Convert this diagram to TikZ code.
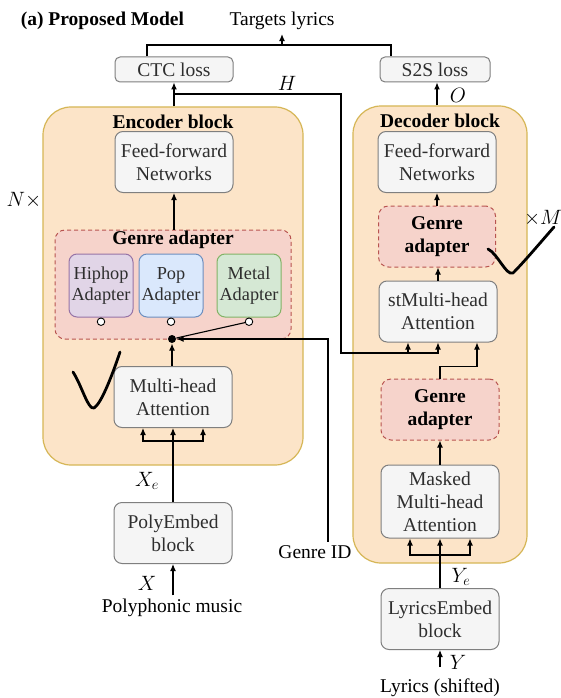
\documentclass[tikz,border=0pt]{standalone}
\usepackage{fontspec}
\setmainfont{Liberation Serif}
\usetikzlibrary{positioning, arrows.meta, calc}

\definecolor{blockfill}{HTML}{FCE4C8}
\definecolor{blockline}{HTML}{D6B656}
\definecolor{boxfill}{HTML}{F5F5F5}
\definecolor{boxline}{HTML}{7F7F7F}
\definecolor{boxtext}{HTML}{2E2E2E}
\definecolor{genrefill}{HTML}{F6D3CB}
\definecolor{genreline}{HTML}{B85450}
\definecolor{hiphopfill}{HTML}{E1D5E7}
\definecolor{hiphopline}{HTML}{9673A6}
\definecolor{popfill}{HTML}{DAE8FC}
\definecolor{popline}{HTML}{6C8EBF}
\definecolor{metalfill}{HTML}{D5E8D4}
\definecolor{metalline}{HTML}{82B366}

\begin{document}
\begin{tikzpicture}[
    x=1pt, y=-1pt,
    line width=1.1pt,
    >={Latex[length=7pt,width=6pt]},
    font=\fontsize{19.5}{23}\selectfont,
    block/.style={draw=blockline, fill=blockfill, rounded corners=28pt, line width=1.2pt},
    box/.style={draw=boxline, fill=boxfill, text=boxtext, rounded corners=8pt, align=center, minimum width=118pt, minimum height=61pt, inner sep=1pt, line width=1pt},
    losbox/.style={box, minimum height=25pt, rounded corners=5pt},
    genre/.style={draw=genreline, fill=genrefill, dash pattern=on 4pt off 3pt, rounded corners=10pt, line width=1pt, align=center, font=\fontsize{19.5}{23}\selectfont\bfseries},
    adapter/.style={box, minimum width=64pt, minimum height=63pt, font=\fontsize{18.3}{21}\selectfont},
    port/.style={draw, fill=white, circle, inner sep=0pt, minimum size=7.5pt, line width=0.9pt},
    heading/.style={font=\fontsize{19.5}{23}\selectfont\bfseries},
    tick/.style={line width=2.8pt, line cap=round, line join=round}
]{
    \fill[white] (0,0) rectangle (560,698);
    \useasboundingbox (0,0) rectangle (560,698);

    \node[block, minimum width=260pt, minimum height=358pt](encoder) at (173,286){};
    \node[block, minimum width=174pt, minimum height=457pt](decoder) at (440,334.5){};

    % Encoder
    \node[heading](encoder_title) at (173,122){Encoder block};
    \node[box](enc_ffn) at (174,162){Feed-forward\\Networks};
    \node[genre, minimum width=236pt, minimum height=109pt](enc_genre) at (173,284.5){};
    \node[heading](enc_genre_title) at (173,240){Genre adapter};
    \node[adapter, fill=hiphopfill, draw=hiphopline](hiphop) at (101,285.5){Hiphop\\Adapter};
    \node[adapter, fill=popfill, draw=popline](pop) at (171,285.5){Pop\\Adapter};
    \node[adapter, fill=metalfill, draw=metalline](metal) at (249,285.5){Metal\\Adapter};
    \node[port, below=0pt of hiphop](hiphop_port){};
    \node[port, below=0pt of pop](pop_port){};
    \node[port, below=0pt of metal](metal_port){};
    \node[circle, fill=black, inner sep=0pt, minimum size=8pt](selector) at (172,339){};
    \node[box](enc_mha) at (173,397){Multi-head\\Attention};
    \node[box](poly_embed) at (173,533){PolyEmbed\\block};
    \node(poly_in) at (172,608){Polyphonic music};
    \node(xe_label) at (147,481){$X_e$};
    \node(x_label) at (147,583){$X$};
    \node(genre_id) at (315,552){Genre ID};
    \node(n_times) at (24,200){$N\times$};

    % Decoder
    \node[heading](decoder_title) at (440,121){Decoder block};
    \node[box](dec_ffn) at (437,162){Feed-forward\\Networks};
    \node[genre, minimum width=117pt, minimum height=61pt](dec_genre_top) at (437,236.5){Genre\\adapter};
    \node[box](dec_cross) at (438,311.5){stMulti-head\\Attention};
    \node[genre, minimum width=118pt, minimum height=61pt](dec_genre_low) at (440,409.5){Genre\\adapter};
    \node[box, minimum height=73pt](dec_masked) at (440,501.5){Masked\\Multi-head\\Attention};
    \node[box](lyrics_embed) at (440,619){LyricsEmbed\\block};
    \node(lyrics_in) at (440,688){Lyrics (shifted)};
    \node(ye_label) at (461,577){$Y_e$};
    \node(y_label) at (458,662){$Y$};
    \node(m_times) at (543,218){$\times M$};

    % Losses
    \node[losbox](ctc) at (174,69.5){CTC loss};
    \node[losbox, minimum width=110pt](s2s) at (435,69.5){S2S loss};
    \node[heading, anchor=base west](title) at (17,26){(a) Proposed Model};
    \node[anchor=base](targets) at (282,26){Targets lyrics};
    \node(h_label) at (287,83){$H$};
    \node(o_label) at (458,95){$O$};

    \coordinate(loss_join) at (282,45);
    \draw([xshift=-27pt]ctc.north) |- (loss_join) -| ([xshift=-44pt]s2s.north);
    \draw[->](loss_join) -- (targets);

    \draw[->](enc_ffn |- encoder.north) -- (ctc);
    \draw[->](dec_ffn |- decoder.north) -- (dec_ffn |- s2s.south);

    \coordinate(h_turn) at (341,94);
    \coordinate(h_bus) at (341,353);
    \draw[->](enc_ffn |- h_turn) -- (h_turn) -- (h_bus) -| (dec_cross.south);
    \draw[->](h_bus) -| ([xshift=-30pt]dec_cross.south);
    \draw[->](dec_genre_low.north) -- ++(0,-12) -| ([xshift=39pt]dec_cross.south);

    \draw[->](enc_genre.north -| enc_ffn) -- (enc_ffn);
    \draw[->](enc_mha.north -| selector) -- (selector);
    \draw(metal_port) -- (selector);
    \draw[->]([xshift=13pt]genre_id.north) |- (selector);

    \coordinate(enc_fork) at (173,441);
    \draw(poly_embed) -- (enc_fork);
    \draw[->](enc_fork) -- (enc_mha);
    \draw[->](enc_fork) -| ([xshift=-30pt]enc_mha.south);
    \draw[->](enc_fork) -| ([xshift=30pt]enc_mha.south);
    \draw[->](poly_in.north -| poly_embed) -- (poly_embed);

    \draw[->](dec_genre_top) -- (dec_ffn);
    \draw[->](dec_cross.north) -- (dec_cross.north |- dec_genre_top.south);
    \draw[->](dec_masked) -- (dec_genre_low);

    \coordinate(dec_fork) at (440,555);
    \draw(lyrics_embed) -- (dec_fork);
    \draw[->](dec_fork) -- (dec_masked);
    \draw[->](dec_fork) -| ([xshift=-30pt]dec_masked.south);
    \draw[->](dec_fork) -| ([xshift=30pt]dec_masked.south);
    \draw[->]([yshift=8pt]lyrics_in.north) -- (lyrics_embed);

    % pen ticks
    \draw[tick](73,372) .. controls (82,386) and (88,410) .. (94,408) .. controls (101,404) and (112,376) .. (120,352);
    \draw[tick](488,249) .. controls (498,254) and (506,276) .. (513,273) .. controls (524,262) and (540,243) .. (554,227);
}
\end{tikzpicture}
\end{document}
